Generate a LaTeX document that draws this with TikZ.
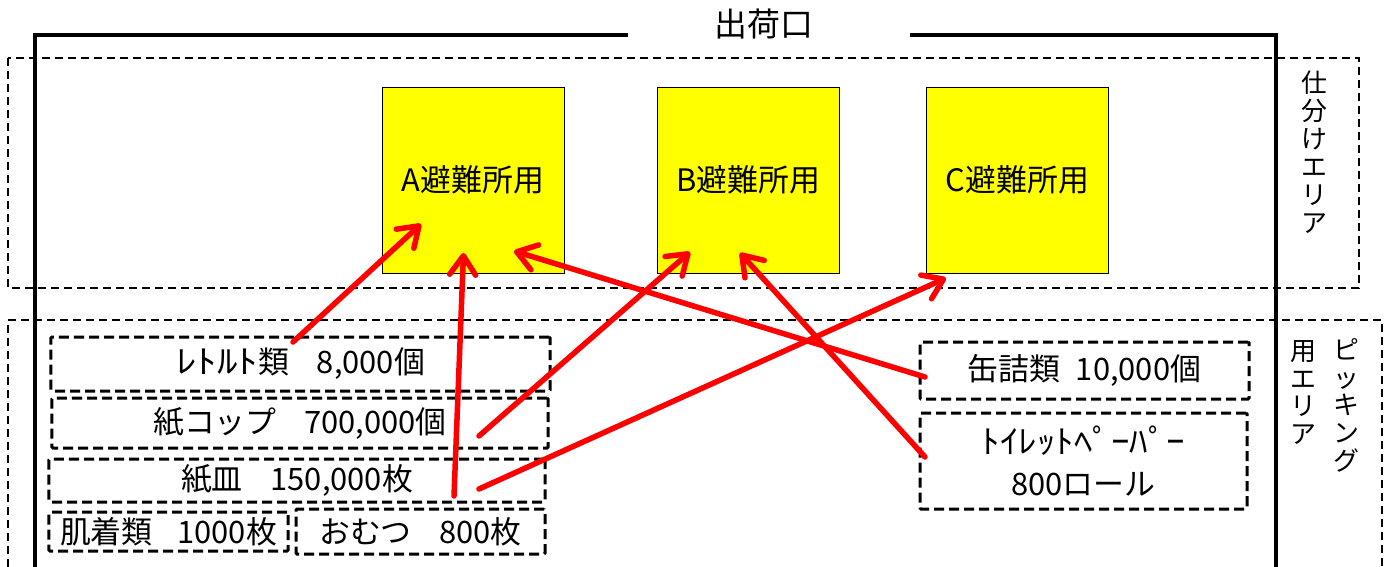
\documentclass[tikz,border=0pt]{standalone}
\usepackage{fontspec}
\usepackage{graphicx}
\setmainfont{Noto Sans CJK JP}
\usetikzlibrary{arrows.meta}
\definecolor{boxyellow}{RGB}{255,255,0}
\definecolor{arrred}{RGB}{255,0,0}
\newcommand{\widekana}[2][1.33]{\scalebox{#1}[1.05]{#2}}
\begin{document}
\begin{tikzpicture}[x=1bp,y=-1bp,
  wall/.style={line width=4bp, line join=miter},
  area/.style={line width=1.5bp, dash pattern=on 8bp off 5bp},
  itembox/.style={draw, line width=3bp, dash pattern=on 10bp off 5bp, inner sep=0pt, rounded corners=1bp, font=\fontsize{31}{35}\selectfont},
  shelter/.style={draw, line width=0.8bp, fill=boxyellow, minimum width=182bp, minimum height=186bp, inner sep=0pt, font=\fontsize{31}{34}\selectfont},
  flow/.style={draw=arrred, line width=5.5bp, line cap=round, -{Straight Barb[length=19bp,width=26bp,round]}},
  vlabel/.style={align=center, inner sep=0pt, anchor=north, font=\fontsize{26}{28}\selectfont}
]
\useasboundingbox (0,0) rectangle (1397,567);

% areas
\draw[area] (8,58) rectangle (1359,288);
\draw[area] (8,567) -- (8,320) -- (1382,320) -- (1382,567);

% walls
\draw[wall] (628,35) -- (35,35) -- (35,569);
\draw[wall] (910,35) -- (1276,35) -- (1276,569);
\node[font=\fontsize{33}{35}\selectfont, inner sep=0pt] (exit) at (764,24) {出荷口};

% area labels
\node[vlabel] (sortlbl) at (1314,71) {仕\\分\\け\\エ\\リ\\ア};
\node[vlabel] (pick1) at (1346,338) {ピ\\ッ\\キ\\ン\\グ};
\node[vlabel] (pick2) at (1303,340) {用\\エ\\リ\\ア};

% shelters
\node[shelter] (A) at (473,180) {A避難所用};
\node[shelter] (B) at (748.5,180) {B避難所用};
\node[shelter] (C) at (1017.5,180) {C避難所用};

% items left
\node[itembox, minimum width=499bp, minimum height=54bp] (retort) at (300.5,364) {\widekana{ﾚﾄﾙﾄ}類\hspace{0.9em}8,000個};
\node[itembox, minimum width=496bp, minimum height=50bp] (cup) at (300,423) {紙コップ\hspace{0.9em}700,000個};
\node[itembox, minimum width=496bp, minimum height=43bp] (plate) at (297,480.5) {紙皿\hspace{0.9em}150,000枚};
\node[itembox, minimum width=239bp, minimum height=39bp] (under) at (168.5,531.5) {肌着類\hspace{0.8em}1000枚};
\node[itembox, minimum width=249bp, minimum height=45bp] (diaper) at (420.5,531.5) {おむつ\hspace{0.9em}800枚};

% items right
\node[itembox, minimum width=329bp, minimum height=57bp] (can) at (1084.5,370.5) {缶詰類\hspace{0.5em}10,000個};
\node[itembox, minimum width=327bp, minimum height=96bp, align=center, font=\fontsize{31}{42}\selectfont] (tp) at (1083.5,461) {\widekana[1.2]{ﾄｲﾚｯﾄﾍﾟｰﾊﾟｰ}\\800ロール};

% arrow ends
\coordinate (s1) at (293,342);
\coordinate (s2) at (454,496);
\coordinate (s3) at (479,436);
\coordinate (s4) at (479,489);
\coordinate (s5) at (925,377);
\coordinate (s6) at (925,457);
\coordinate (t1) at (421,224);
\coordinate (t2) at (463.5,253);
\coordinate (t3) at (690,252);
\coordinate (t4) at (946,278);
\coordinate (t5) at (514,251);
\coordinate (t6) at (740,253);

\draw[flow] (s1) -- (t1);
\draw[flow] (s2) -- (t2);
\draw[flow] (s3) -- (t3);
\draw[flow] (s4) -- (t4);
\draw[flow] (s5) -- (t5);
\draw[flow] (s6) -- (t6);
\end{tikzpicture}
\end{document}
